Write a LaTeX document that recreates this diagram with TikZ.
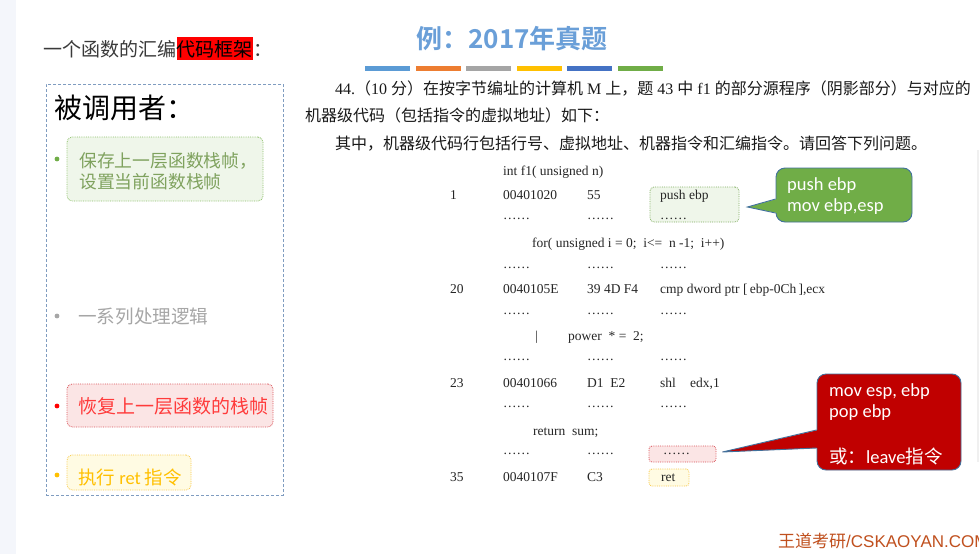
\documentclass[tikz,border=0pt]{standalone}
\usepackage{fontspec}
\setmainfont{Liberation Serif}
\newfontfamily\cjk{Noto Sans CJK SC}
\newfontfamily\cjkbold{Noto Sans CJK SC Bold}
\newfontfamily\calfont{Carlito}
\newfontfamily\arl{Liberation Sans}
\newcommand\zh[1]{{\cjk #1}}
\newcommand\fsz[1]{\fontsize{#1}{#1}\selectfont}
\definecolor{stripcol}{HTML}{F4F6FB}
\definecolor{titlegray}{HTML}{3A3A3A}
\definecolor{titleblue}{HTML}{6A9FD8}
\definecolor{barA}{HTML}{5B9BD5}
\definecolor{barB}{HTML}{ED7D31}
\definecolor{barC}{HTML}{A5A5A5}
\definecolor{barD}{HTML}{FFC000}
\definecolor{barE}{HTML}{4472C4}
\definecolor{barF}{HTML}{70AD47}
\definecolor{paneledge}{HTML}{7F9CC0}
\definecolor{gfill}{HTML}{EFF6EA}
\definecolor{gedge}{HTML}{8DC06A}
\definecolor{gtext}{HTML}{7FA25E}
\definecolor{gdot}{HTML}{70AD47}
\definecolor{greytext}{HTML}{A6A6A6}
\definecolor{rfill}{HTML}{FBE5E5}
\definecolor{redge}{HTML}{D9535A}
\definecolor{rtext}{HTML}{FF3B3B}
\definecolor{yfill}{HTML}{FFFBE3}
\definecolor{yedge}{HTML}{F7C948}
\definecolor{ytext}{HTML}{FFC000}
\definecolor{codegray}{HTML}{262626}
\definecolor{callg}{HTML}{70AD47}
\definecolor{callr}{HTML}{C00000}
\definecolor{calledge}{HTML}{41719C}
\definecolor{wmcol}{HTML}{C0501E}
\tikzset{
  txt/.style={inner sep=0pt, anchor=base west},
  code/.style={txt, font=\fsz{13.5}, text=codegray},
  para/.style={txt, font=\fsz{16}, text=black!90},
  hbox/.style={rounded corners=5pt, densely dotted, line width=0.8pt, inner sep=0pt},
  callbox/.style={draw=calledge, line width=0.9pt, rounded corners=9pt, inner sep=0pt},
  calltext/.style={txt, font=\calfont\fsz{18.5}, text=white},
}
\begin{document}
\begin{tikzpicture}[x=1pt,y=-1pt]
\useasboundingbox (0,0) rectangle (979,554);
\fill[white] (0,0) rectangle (979,554);
\fill[stripcol] (0,0) rectangle (16,554);
\fill[black!6] (977,150) rectangle (979,462);

% heading
\node[txt, font=\cjk\fsz{19}, text=titlegray] (h1) at (43,56) {一个函数的汇编};
\node[inner sep=0pt, anchor=base west, fill=red, font=\cjk\fsz{19}, text height=19pt, text depth=4pt] (h2) at (h1.base east) {代码框架};
\node[txt, font=\cjk\fsz{19}, text=titlegray] (h3) at (h2.base east) {：};

\node[inner sep=0pt, anchor=base, font=\cjkbold\fsz{26}, text=titleblue] (title) at (512,48) {例：2017年真题};
\foreach \c [count=\i] in {barA,barB,barC,barD,barE,barF}
  \fill[\c] ({365+50.6*(\i-1)},66) rectangle ++(45,4.5);

% paragraph
\node[para] (p1) at (335,94) {44.\zh{（}10 \zh{分）在按字节编址的计算机} M \zh{上，题} 43 \zh{中} f1 \zh{的部分源程序（阴影部分）与对应的}};
\node[para] (p2) at (305,121) {\zh{机器级代码（包括指令的虚拟地址）如下：}};
\node[para] (p3) at (335,149) {\zh{其中，机器级代码行包括行号、虚拟地址、机器指令和汇编指令。请回答下列问题。}};

% left panel
\node[draw=paneledge, dash pattern=on 3pt off 2pt, line width=1pt, minimum width=237pt, minimum height=411pt, inner sep=0pt] (panel) at (164.5,289.5) {};
\node[txt, font=\cjk\fsz{28}] (callee) at (54,118) {被调用者：};

\node[hbox, draw=gedge, fill=gfill, minimum width=196pt, minimum height=64pt] (gb) at (165,169) {};
\fill[gdot] (57,159) circle (2.4);
\node[txt, font=\cjk\fsz{17.8}, text=gtext] (g1) at (79,167) {保存上一层函数栈帧，};
\node[txt, font=\cjk\fsz{17.8}, text=gtext] (g2) at (79,188) {设置当前函数栈帧};

\fill[greytext] (57,316) circle (2.4);
\node[txt, font=\cjk\fsz{18.6}, text=greytext] (s2) at (78,323) {一系列处理逻辑};

\node[hbox, draw=redge, fill=rfill, minimum width=206pt, minimum height=43pt] (rb) at (170,405.5) {};
\fill[red] (57,406) circle (2.4);
\node[txt, font=\cjk\fsz{19}, text=rtext] (s3) at (78,413) {恢复上一层函数的栈帧};

\node[hbox, draw=yedge, fill=yfill, minimum width=124pt, minimum height=35pt] (yb) at (129,472.5) {};
\fill[ytext] (57,475) circle (2.4);
\node[txt, font=\cjk\fsz{18.5}, text=ytext] (s4) at (78,484) {执行 {\calfont ret} 指令};

% code highlight boxes
\node[hbox, rounded corners=4pt, draw=gedge!90!black, fill=gfill, minimum width=89pt, minimum height=35pt] (cbg) at (694.5,204.5) {};
\node[hbox, rounded corners=3pt, draw=redge, fill=rfill, minimum width=67pt, minimum height=16pt] (cbr) at (682.5,454) {};
\node[hbox, rounded corners=3pt, draw=yedge, fill=yfill, minimum width=40pt, minimum height=17pt] (cby) at (669,477.5) {};

% code listing
\node[code] (c0) at (503,175.5) {int f1(\ unsigned n)};
\node[code] (r1a) at (450,199.5) {1};
\node[code] (r1b) at (503,199.5) {00401020};
\node[code] (r1c) at (587,199.5) {55};
\node[code] (r1d) at (660,199.5) {push ebp};
\node[code] (d1a) at (503,219) {……};
\node[code] (d1b) at (587,219) {……};
\node[code] (d1c) at (660,219) {……};
\node[code] (c1) at (532,247) {for(\ unsigned i = 0;\ \ i<= \ n -1;\ \ i++)};
\node[code] (d2a) at (503,268) {……};
\node[code] (d2b) at (587,268) {……};
\node[code] (d2c) at (660,268) {……};
\node[code] (r2a) at (450,293.5) {20};
\node[code] (r2b) at (503,293.5) {0040105E};
\node[code] (r2c) at (587,293.5) {39 4D F4};
\node[code] (r2d) at (660,293.5) {cmp dword ptr [\,ebp-0Ch\,],ecx};
\node[code] (d3a) at (503,314) {……};
\node[code] (d3b) at (587,314) {……};
\node[code] (d3c) at (660,314) {……};
\node[code] (c2a) at (535,340) {|};
\node[code] (c2b) at (568,340) {power \ * = \ 2;};
\node[code] (d4a) at (503,360) {……};
\node[code] (d4b) at (587,360) {……};
\node[code] (d4c) at (660,360) {……};
\node[code] (r3a) at (450,387.5) {23};
\node[code] (r3b) at (503,387.5) {00401066};
\node[code] (r3c) at (587,387.5) {D1\ \ E2};
\node[code] (r3d) at (660,387.5) {shl};
\node[code] (r3e) at (690,387.5) {edx,1};
\node[code] (d5a) at (503,407) {……};
\node[code] (d5b) at (587,407) {……};
\node[code] (d5c) at (660,407) {……};
\node[code] (c3) at (533,435) {return \ sum;};
\node[code] (d6a) at (503,454) {……};
\node[code] (d6b) at (587,454) {……};
\node[code] (d6c) at (663,454) {……};
\node[code] (r4a) at (450,481.5) {35};
\node[code] (r4b) at (503,481.5) {0040107F};
\node[code] (r4c) at (587,481.5) {C3};
\node[code] (r4d) at (661,481.5) {ret};

% green callout
\node[callbox, fill=callg, minimum width=136pt, minimum height=54pt] (cg) at (844,195) {};
\coordinate (gtip) at ([shift={(8,2.5)}]cbg.east);
\fill[callg] ([shift={(1.5,4)}]cg.west) -- (gtip) -- ([shift={(1.5,18)}]cg.west) -- cycle;
\draw[calledge, line width=0.9pt, line join=miter] ([shift={(0,4)}]cg.west) -- (gtip) -- ([shift={(0,18)}]cg.west);
\node[calltext] (cg1) at (787,190) {push ebp};
\node[calltext] (cg2) at (787,211) {mov ebp,esp};

% red callout
\node[callbox, fill=callr, minimum width=144pt, minimum height=96pt] (cr) at (889,422) {};
\coordinate (rtip) at ([shift={(6,-2)}]cbr.east);
\fill[callr] ([shift={(1.5,8)}]cr.west) -- (rtip) -- ([shift={(1.5,26)}]cr.west) -- cycle;
\draw[calledge, line width=0.9pt, line join=miter] ([shift={(0,8)}]cr.west) -- (rtip) -- ([shift={(0,26)}]cr.west);
\node[calltext] (cr1) at (829,396) {mov esp, ebp};
\node[calltext] (cr2) at (829,417) {pop ebp};
\node[calltext] (cr3) at (829,463) {\zh{或：}leave\zh{指令}};

% watermark
\node[txt, text=wmcol, font=\fsz{17}] (wm) at (778,547) {\zh{王道考研}{\arl /CSKAOYAN.COM}};
\end{tikzpicture}
\end{document}
